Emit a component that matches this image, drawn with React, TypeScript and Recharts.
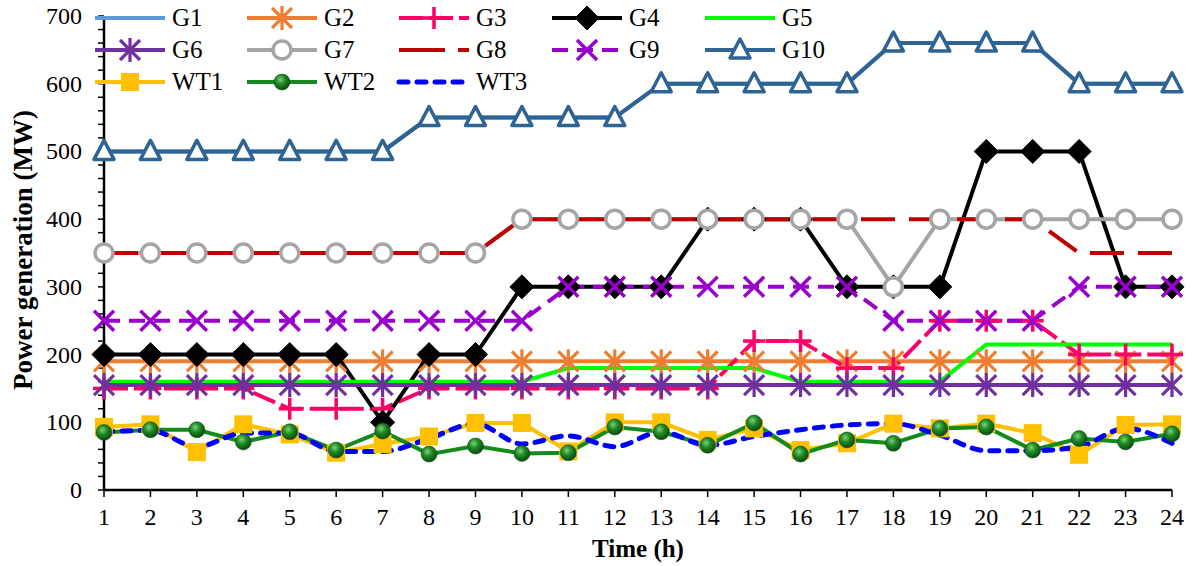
import React from 'react';
import { LineChart, Line, XAxis, YAxis } from 'recharts';

const hours = [1, 2, 3, 4, 5, 6, 7, 8, 9, 10, 11, 12, 13, 14, 15, 16, 17, 18, 19, 20, 21, 22, 23, 24];
const G1 = [500, 500, 500, 500, 500, 500, 500, 550, 550, 550, 550, 550, 600, 600, 600, 600, 600, 660, 660, 660, 660, 600, 600, 600];
const G2 = [190, 190, 190, 190, 190, 190, 190, 190, 190, 190, 190, 190, 190, 190, 190, 190, 190, 190, 190, 190, 190, 190, 190, 190];
const G3 = [150, 150, 150, 150, 120, 120, 120, 150, 150, 150, 150, 150, 150, 150, 220, 220, 180, 180, 250, 250, 250, 200, 200, 200];
const G4 = [200, 200, 200, 200, 200, 200, 100, 200, 200, 300, 300, 300, 300, 400, 400, 400, 300, 300, 300, 500, 500, 500, 300, 300];
const G5 = [160, 160, 160, 160, 160, 160, 160, 160, 160, 160, 180, 180, 180, 180, 180, 160, 160, 160, 160, 215, 215, 215, 215, 215];
const G6 = [155, 155, 155, 155, 155, 155, 155, 155, 155, 155, 155, 155, 155, 155, 155, 155, 155, 155, 155, 155, 155, 155, 155, 155];
const G7 = [350, 350, 350, 350, 350, 350, 350, 350, 350, 400, 400, 400, 400, 400, 400, 400, 400, 300, 400, 400, 400, 400, 400, 400];
const G8 = [350, 350, 350, 350, 350, 350, 350, 350, 350, 400, 400, 400, 400, 400, 400, 400, 400, 400, 400, 400, 400, 350, 350, 350];
const G9 = [250, 250, 250, 250, 250, 250, 250, 250, 250, 250, 300, 300, 300, 300, 300, 300, 300, 250, 250, 250, 250, 300, 300, 300];
const G10 = [500, 500, 500, 500, 500, 500, 500, 550, 550, 550, 550, 550, 600, 600, 600, 600, 600, 660, 660, 660, 660, 600, 600, 600];
const WT1 = [93, 97, 56, 97, 82, 55, 68, 79, 99, 99, 57, 100, 100, 74, 91, 59, 69, 98, 91, 98, 84, 52, 96, 97];
const WT2 = [85, 89, 89, 71, 86, 59, 87, 53, 65, 54, 55, 93, 86, 66, 99, 53, 74, 69, 91, 93, 59, 76, 71, 83];
const WT3 = [86, 88, 64, 84, 84, 57, 57, 76, 98, 68, 80, 64, 86, 66, 79, 89, 96, 98, 81, 58, 58, 64, 91, 69];

const yTicks = [0, 20, 40, 60, 80, 100, 120, 140, 160, 180, 200, 220, 240, 260, 280, 300, 320, 340, 360, 380, 400, 420, 440, 460, 480, 500, 520, 540, 560, 580, 600, 620, 640, 660, 680, 700];
const yLabelValues = [0, 100, 200, 300, 400, 500, 600, 700];

const data = hours.map((h, i) => ({
  hour: h, G1: G1[i], G2: G2[i], G3: G3[i], G4: G4[i], G5: G5[i], G6: G6[i], G7: G7[i], G8: G8[i], G9: G9[i], G10: G10[i], WT1: WT1[i], WT2: WT2[i], WT3: WT3[i],
}));

const FONT = "'Liberation Serif', 'Times New Roman', serif";

type M = (cx: number, cy: number, k?: string) => React.ReactElement;

const asterisk = (color: string): M => (cx, cy, k) => (
  <g key={k} stroke={color} strokeWidth={3.2} strokeLinecap="butt">
    <line x1={cx} y1={cy - 12} x2={cx} y2={cy + 12} />
    <line x1={cx - 10} y1={cy - 10} x2={cx + 10} y2={cy + 10} />
    <line x1={cx - 10} y1={cy + 10} x2={cx + 10} y2={cy - 10} />
  </g>
);
const plusM: M = (cx, cy, k) => (
  <g key={k} stroke="#FF0066" strokeWidth={3.5}>
    <line x1={cx} y1={cy - 11} x2={cx} y2={cy + 11} />
    <line x1={cx - 11} y1={cy} x2={cx + 11} y2={cy} />
  </g>
);
const diamondM: M = (cx, cy, k) => (
  <polygon key={k} points={`${cx},${cy - 12} ${cx + 12},${cy} ${cx},${cy + 12} ${cx - 12},${cy}`} fill="#000" stroke="#000" strokeWidth={1} />
);
const circleM: M = (cx, cy, k) => (
  <circle key={k} cx={cx} cy={cy} r={9} fill="#fff" stroke="#A5A5A5" strokeWidth={3.5} />
);
const xM: M = (cx, cy, k) => (
  <g key={k} stroke="#9900CC" strokeWidth={3.5}>
    <line x1={cx - 10} y1={cy - 10} x2={cx + 10} y2={cy + 10} />
    <line x1={cx - 10} y1={cy + 10} x2={cx + 10} y2={cy - 10} />
  </g>
);
const triM: M = (cx, cy, k) => (
  <polygon key={k} points={`${cx},${cy - 11} ${cx + 10},${cy + 8} ${cx - 10},${cy + 8}`} fill="#fff" stroke="#2E6395" strokeWidth={3.5} strokeLinejoin="round" />
);
const squareM: M = (cx, cy, k) => (
  <rect key={k} x={cx - 9} y={cy - 9} width={18} height={18} fill="#FFC000" />
);
const sphereM: M = (cx, cy, k) => (
  <circle key={k} cx={cx} cy={cy} r={8} fill="url(#sphereGrad)" stroke="#0E4A12" strokeWidth={0.5} />
);

const dotOf = (m: M) => (p: any) => {
  if (p == null || p.cx == null || p.cy == null) return <g key={`e${p?.index}`} />;
  return m(p.cx, p.cy, `d${p.index}`);
};

type S = { key: string; color: string; width: number; dash?: string; legendDash?: string; marker?: M; type?: 'linear' | 'monotone'; cap?: 'round' | 'butt' };

const series: S[] = [
  { key: 'G1', color: '#5B9BD5', width: 4 },
  { key: 'G2', color: '#ED7D31', width: 4, marker: asterisk('#ED7D31') },
  { key: 'G3', color: '#FF0066', width: 4, dash: '24 6', marker: plusM },
  { key: 'G4', color: '#000000', width: 4, marker: diamondM },
  { key: 'G5', color: '#00FF00', width: 4 },
  { key: 'G6', color: '#7030A0', width: 4, marker: asterisk('#7030A0') },
  { key: 'G7', color: '#A5A5A5', width: 4, marker: circleM },
  { key: 'G8', color: '#C00000', width: 4, dash: '34 14', legendDash: '46 13 11 100' },
  { key: 'G9', color: '#9900CC', width: 4, dash: '16 9', marker: xM },
  { key: 'G10', color: '#2E6395', width: 4, marker: triM },
  { key: 'WT1', color: '#FFC000', width: 4, marker: squareM },
  { key: 'WT2', color: '#138A1C', width: 4, marker: sphereM },
  { key: 'WT3', color: '#0000FF', width: 5, dash: '9 9', type: 'monotone', cap: 'round' },
];

const legendCols = [95, 247, 399, 552, 705];
const legendRows = [18, 50, 82];

const Legend2 = () => (
  <svg width={900} height={100} style={{ position: 'absolute', left: 0, top: 0, overflow: 'visible' }}>
    <defs>
      <radialGradient id="sphereGrad" cx="40%" cy="35%" r="65%">
        <stop offset="0%" stopColor="#7FD17F" />
        <stop offset="45%" stopColor="#1F8A24" />
        <stop offset="100%" stopColor="#0B4A0E" />
      </radialGradient>
    </defs>
    {series.map((s, i) => {
      const x0 = legendCols[i % 5];
      const y = legendRows[Math.floor(i / 5)];
      return (
        <g key={s.key}>
          <line x1={x0} y1={y} x2={x0 + 70} y2={y} stroke={s.color} strokeWidth={s.width} strokeDasharray={s.legendDash || s.dash} strokeLinecap={s.cap || 'butt'} />
          {s.marker ? s.marker(x0 + 35, y) : null}
          <text x={x0 + 77} y={y + 8} fontFamily={FONT} fontSize={25} fill="#000">{s.key}</text>
        </g>
      );
    })}
  </svg>
);

const YTick = (props: any) => {
  const { x, y, payload } = props;
  if (!yLabelValues.includes(payload.value)) return <g />;
  return (
    <text x={x} y={y} dy={8} textAnchor="end" fontFamily={FONT} fontSize={24} fill="#000">{payload.value}</text>
  );
};

export default function App() {
  return (
    <div style={{ position: 'absolute', left: 0, top: 0, width: 1195, height: 566, background: '#fff' }}>
      <LineChart width={1195} height={566} data={data} margin={{ top: 16, right: 23, left: 0, bottom: 16 }}>
        <XAxis
          dataKey="hour"
          type="number"
          domain={[1, 24]}
          ticks={hours}
          interval={0}
          height={60}
          axisLine={{ stroke: '#000', strokeWidth: 2.5 }}
          tickLine={{ stroke: '#000', strokeWidth: 1.5 }}
          tickSize={7}
          tickMargin={11}
          tick={{ fill: '#000', fontSize: 24, fontFamily: FONT }}
          label={{
            content: () => (
              <text x={638} y={557} textAnchor="middle" fontFamily={FONT} fontSize={25} fontWeight="bold" fill="#000">Time (h)</text>
            ),
          }}
        />
        <YAxis
          type="number"
          domain={[0, 700]}
          ticks={yTicks}
          interval={0}
          width={104}
          axisLine={{ stroke: '#000', strokeWidth: 2.5 }}
          tickLine={{ stroke: '#000', strokeWidth: 1.5 }}
          tickSize={6}
          tickMargin={16}
          tick={<YTick />}
          label={{
            content: () => (
              <text x={32} y={250} transform="rotate(-90 32 250)" textAnchor="middle" fontFamily={FONT} fontSize={27} fontWeight="bold" fill="#000">Power generation (MW)</text>
            ),
          }}
        />
        {series.map((s) => (
          <Line
            key={s.key}
            dataKey={s.key}
            type={s.type || 'linear'}
            stroke={s.color}
            strokeWidth={s.width}
            strokeDasharray={s.dash}
            strokeLinecap={s.cap || 'butt'}
            dot={s.marker ? dotOf(s.marker) : false}
            activeDot={false}
            isAnimationActive={false}
            legendType="none"
          />
        ))}
      </LineChart>
      <Legend2 />
    </div>
  );
}
